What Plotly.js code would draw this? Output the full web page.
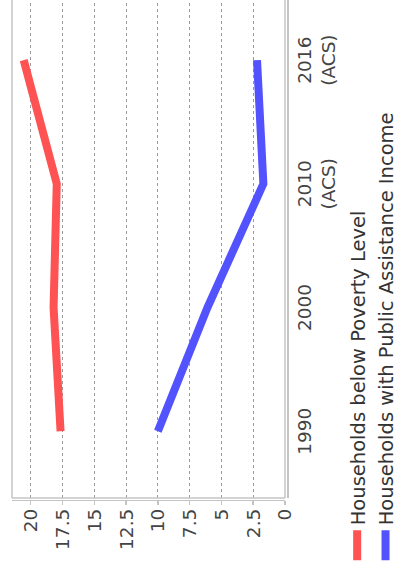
<!DOCTYPE html>
<html>
<head>
<meta charset="utf-8">
<script src="https://cdn.plot.ly/plotly-3.0.1.min.js"></script>
<style>
  html, body { margin: 0; padding: 0; background: #fff; }
  #wrap { width: 400px; height: 571px; overflow: hidden; position: relative; }
  #chart { width: 571px; height: 400px; position: absolute; left: 0; top: 0;
           transform-origin: 0 0; transform: translateY(571px) rotate(-90deg); }
</style>
</head>
<body>
<div id="wrap"><div id="chart"></div></div>
<script>
const categories = ['1990', '2000', '2010<br>(ACS)', '2016<br>(ACS)'];
const povertyValues = [17.65, 18.2, 17.95, 20.55];
const assistanceValues = [10.0, 6.1, 1.7, 2.2];
const seriesNames = ['Households below Poverty Level', 'Households with Public Assistance Income'];
const yTicks = [0, 2.5, 5, 7.5, 10, 12.5, 15, 17.5, 20];

const FONT = 'DejaVu Sans, sans-serif';
const traces = [
  { x: categories, y: povertyValues, name: seriesNames[0], type: 'scatter', mode: 'lines',
    line: { color: '#ff5252', width: 8 } },
  { x: categories, y: assistanceValues, name: seriesNames[1], type: 'scatter', mode: 'lines',
    line: { color: '#5252ff', width: 8 } }
];

const frameColor = '#c4c4c4';
const layout = {
  width: 571, height: 400,
  margin: { l: 70, r: 0, t: 12, b: 113, pad: 0, autoexpand: false },
  paper_bgcolor: '#fff', plot_bgcolor: '#fff',
  font: { family: FONT, size: 18, color: '#444' },
  showlegend: true,
  legend: { xref: 'container', yref: 'container', x: 0.01, y: 0.155, xanchor: 'left', yanchor: 'top',
            orientation: 'v', bgcolor: 'rgba(0,0,0,0)', font: { family: FONT, size: 19.5, color: '#333' },
            tracegroupgap: 0 },
  xaxis: { type: 'category', domain: [3/501, 1], anchor: 'free', position: 0,
           range: [-0.54, 3.486], showgrid: false, zeroline: false, automargin: false,
           showline: true, linecolor: frameColor, linewidth: 1.5, ticks: '',
           tickfont: { family: FONT, size: 18.5, color: '#444' } },
  yaxis: { domain: [2/275, 1], anchor: 'free', position: 0, automargin: false,
           range: [0, 21.47], tickvals: yTicks, ticktext: yTicks.map(String),
           showgrid: true, gridcolor: '#9a9a9a', gridwidth: 1, griddash: 'dot', zeroline: false,
           showline: true, linecolor: frameColor, linewidth: 1.5,
           ticks: 'outside', ticklen: 4, tickcolor: frameColor, tickwidth: 1.5,
           tickfont: { family: FONT, size: 18.5, color: '#444' } },
  shapes: [
    { type: 'line', xref: 'paper', yref: 'paper', x0: 3/501, x1: 3/501, y0: 2/275, y1: 1,
      line: { color: frameColor, width: 1.5 } },
    { type: 'line', xref: 'paper', yref: 'paper', x0: 3/501, x1: 1, y0: 1, y1: 1,
      line: { color: frameColor, width: 1.5 } },
    { type: 'line', xref: 'paper', yref: 'paper', x0: 3/501, x1: 1, y0: 2/275, y1: 2/275,
      line: { color: frameColor, width: 1.5 } }
  ]
};

Plotly.newPlot('chart', traces, layout, { displayModeBar: false, staticPlot: true });
</script>
</body>
</html>
